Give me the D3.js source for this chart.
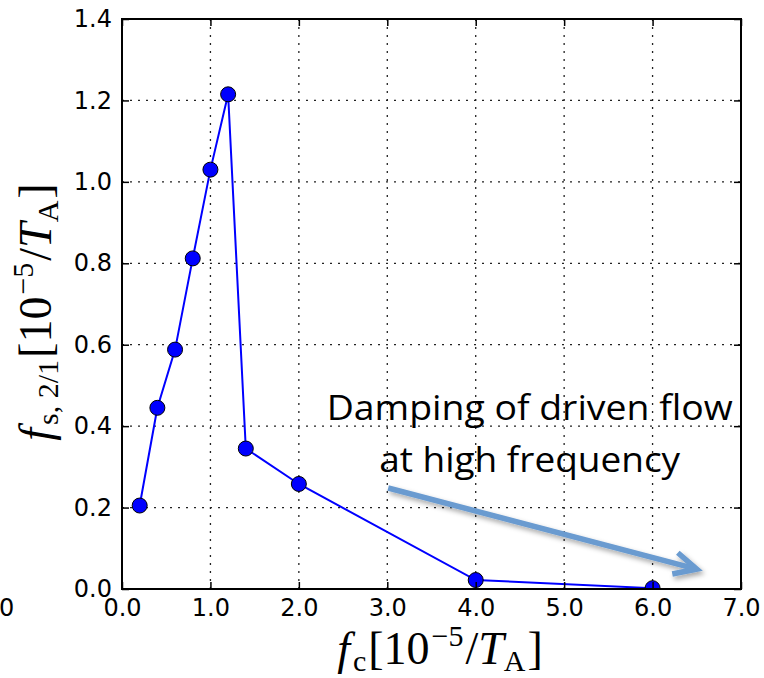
<!DOCTYPE html>
<html>
<head>
<meta charset="utf-8">
<script src="https://cdn.jsdelivr.net/npm/d3@7"></script>
<style>
  body { margin: 0; background: #fff; }
  svg { display: block; }
  .tick text { font-family: "DejaVu Sans", sans-serif; font-size: 24px; fill: #000; }
  .math { font-family: "Liberation Serif", "DejaVu Serif", serif; fill: #000; }
</style>
</head>
<body>
<svg id="chart" width="764" height="678"></svg>
<script>
// data
const fc = [0.2, 0.4, 0.6, 0.8, 1.0, 1.2, 1.4, 2.0, 4.0, 6.0]
const fs = [0.205, 0.445, 0.588, 0.812, 1.03, 1.215, 0.345, 0.258, 0.022, 0.002]

const xTicks = [0, 1, 2, 3, 4, 5, 6, 7]
const yTicks = [0, 0.2, 0.4, 0.6, 0.8, 1.0, 1.2, 1.4]

// annotation, in data units
const noteLines = ["Damping of driven flow", "at high frequency"]
const noteAt = [4.61, 0.415, 0.287]   // x centre, baseline line 1, baseline line 2
const noteWidth = [406, 301]
const arrowFrom = [3.01, 0.248]
const arrowTo = [6.5, 0.049]

const svg = d3.select("#chart")

const m = { left: 122, right: 741, top: 19, bottom: 589 }

const x = d3.scaleLinear().domain([0, 7]).range([m.left, m.right])
const y = d3.scaleLinear().domain([0, 1.4]).range([m.bottom, m.top])

const defs = svg.append("defs")
defs.append("clipPath").attr("id", "plot")
  .append("rect")
    .attr("x", m.left).attr("y", m.top)
    .attr("width", m.right - m.left).attr("height", m.bottom - m.top)

const shadow = defs.append("filter").attr("id", "shadow")
    .attr("x", "-20%").attr("y", "-50%").attr("width", "140%").attr("height", "200%")
shadow.append("feDropShadow")
    .attr("dx", 2).attr("dy", 3).attr("stdDeviation", 2.5)
    .attr("flood-color", "#000").attr("flood-opacity", 0.35)

// grid
const grid = svg.append("g")
  .attr("stroke", "#222")
  .attr("stroke-width", 1.3)
  .attr("stroke-dasharray", "2,6")

grid.selectAll("line.gx")
  .data(xTicks.slice(1, -1))
  .enter().append("line")
    .attr("x1", d => x(d)).attr("x2", d => x(d))
    .attr("y1", m.bottom).attr("y2", m.top)

grid.selectAll("line.gy")
  .data(yTicks.slice(1, -1))
  .enter().append("line")
    .attr("x1", m.left).attr("x2", m.right)
    .attr("y1", d => y(d)).attr("y2", d => y(d))

// series
const pts = fc.map((d, i) => [d, fs[i]])

const plot = svg.append("g").attr("clip-path", "url(#plot)")

plot.append("path")
  .datum(pts)
  .attr("fill", "none")
  .attr("stroke", "#0000ff")
  .attr("stroke-width", 2)
  .attr("d", d3.line().x(d => x(d[0])).y(d => y(d[1])))

plot.selectAll("circle")
  .data(pts)
  .enter().append("circle")
    .attr("cx", d => x(d[0]))
    .attr("cy", d => y(d[1]))
    .attr("r", 7.5)
    .attr("fill", "#0000ff")
    .attr("stroke", "#000")
    .attr("stroke-width", 1)

// axes, ticks pointing inward
const fmt = d3.format(".1f")

svg.append("g")
  .attr("transform", `translate(0,${m.bottom})`)
  .call(d3.axisBottom(x).tickValues(xTicks).tickFormat(fmt).tickSize(-7).tickPadding(10))
svg.append("g")
  .attr("transform", `translate(${m.left},0)`)
  .call(d3.axisLeft(y).tickValues(yTicks).tickFormat(fmt).tickSize(-7).tickPadding(10))
svg.append("g")
  .attr("transform", `translate(0,${m.top})`)
  .call(d3.axisTop(x).tickValues(xTicks).tickFormat("").tickSize(-7))
svg.append("g")
  .attr("transform", `translate(${m.right},0)`)
  .call(d3.axisRight(y).tickValues(yTicks).tickFormat("").tickSize(-7))

svg.selectAll(".domain").remove()
svg.selectAll(".tick line").attr("stroke", "#000").attr("stroke-width", 1.5)

svg.append("rect")
  .attr("x", m.left).attr("y", m.top)
  .attr("width", m.right - m.left).attr("height", m.bottom - m.top)
  .attr("fill", "none")
  .attr("stroke", "#000")
  .attr("stroke-width", 2)

// stray clipped tick label at the far left
svg.append("text")
  .attr("x", -1).attr("y", 616)
  .style("font-family", "DejaVu Sans, sans-serif")
  .style("font-size", "24px")
  .text("0")

// axis labels, mathtext-like
function mathLabel (g, parts) {
  const t = g.append("text").attr("class", "math").attr("text-anchor", "middle")
  let shift = 0
  parts.forEach((p) => {
    const s = t.append("tspan").text(p.t)
    const want = p.sub ? 7 : p.sup ? -18 : 0
    s.attr("dy", want - shift)
    shift = want
    s.style("font-size", (p.sub || p.sup) ? "30px" : "46px")
    if (p.it) s.style("font-style", "italic")
    if (p.gap) s.attr("dx", p.gap)
  })
  return t
}

const xl = svg.append("g").attr("transform", "translate(440,664)")
mathLabel(xl, [
  { t: "f", it: true },
  { t: "c", sub: true, gap: 3 },
  { t: "[10", gap: 2 },
  { t: "\u22125", sup: true, gap: 2 },
  { t: "/", gap: 2 },
  { t: "T", it: true },
  { t: "A", sub: true },
  { t: "]", gap: 2 }
])

const yl = svg.append("g").attr("transform", "translate(51,312) rotate(-90)")
mathLabel(yl, [
  { t: "f", it: true },
  { t: "s, 2/1", sub: true, gap: 3 },
  { t: "[10", gap: 2 },
  { t: "\u22125", sup: true, gap: 2 },
  { t: "/", gap: 2 },
  { t: "T", it: true },
  { t: "A", sub: true },
  { t: "]", gap: 2 }
])

// annotation
svg.append("g").selectAll("text")
  .data(noteLines)
  .enter().append("text")
    .attr("x", x(noteAt[0]))
    .attr("y", (d, i) => y(noteAt[i + 1]))
    .attr("text-anchor", "middle")
    .attr("textLength", (d, i) => noteWidth[i])
    .attr("lengthAdjust", "spacingAndGlyphs")
    .style("font-family", "Open Sans, sans-serif")
    .style("font-size", "34px")
    .attr("fill", "#000")
    .text(d => d)

const ax0 = x(arrowFrom[0]), ay0 = y(arrowFrom[1])
const ax1 = x(arrowTo[0]), ay1 = y(arrowTo[1])
const ang = Math.atan2(ay1 - ay0, ax1 - ax0)
const head = 25, spread = 26 * Math.PI / 180

const arrow = svg.append("g")
  .attr("filter", "url(#shadow)")
  .attr("stroke", "#6a9bd0")
  .attr("stroke-width", 5.5)
  .attr("fill", "none")
  .attr("stroke-linecap", "butt")

arrow.append("line")
  .attr("x1", ax0).attr("y1", ay0)
  .attr("x2", ax1 - 3 * Math.cos(ang)).attr("y2", ay1 - 3 * Math.sin(ang))

arrow.append("path")
  .attr("stroke-linejoin", "miter")
  .attr("d", d3.line()([
    [ax1 - head * Math.cos(ang - spread), ay1 - head * Math.sin(ang - spread)],
    [ax1, ay1],
    [ax1 - head * Math.cos(ang + spread), ay1 - head * Math.sin(ang + spread)]
  ]))
</script>
</body>
</html>
